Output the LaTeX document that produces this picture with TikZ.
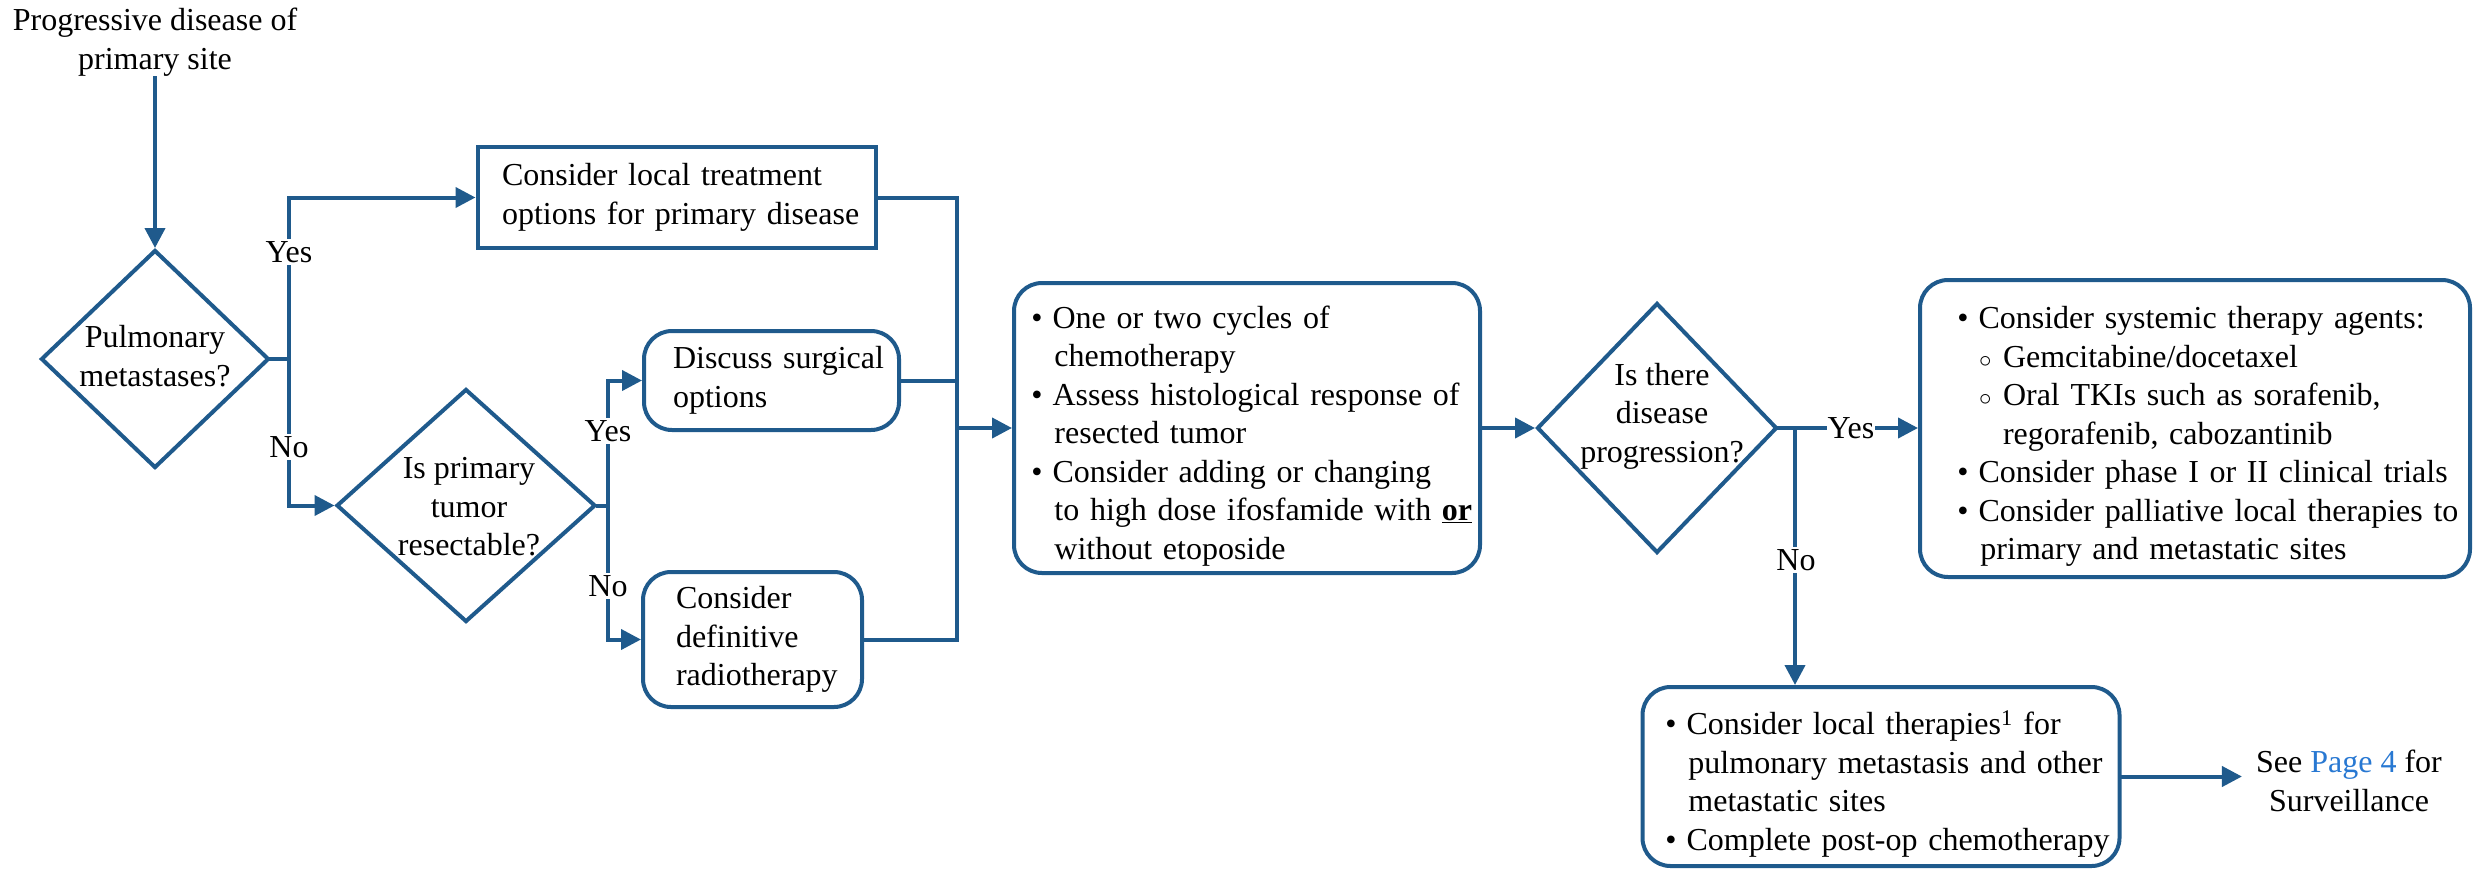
\documentclass[tikz,border=0pt]{standalone}
\usepackage{fontspec}
\setmainfont{Liberation Serif}
\usetikzlibrary{arrows.meta,shapes.geometric}
\definecolor{flowblue}{RGB}{31,90,140}
\definecolor{linkblue}{RGB}{40,120,210}
\newcommand\diagfont{\fontsize{32}{38.5}\selectfont}
% left offset of the bullet column inside a box
\newlength\bind
% bullet item with hanging continuation lines
\newcommand\bitem[1]{\par\leftskip=\dimexpr\bind+0.72em\relax\noindent\hspace*{-0.72em}\makebox[0.66em][l]{\textbullet}#1}
% open-circle sub item
\newcommand\sitem[1]{\par\leftskip=\dimexpr\bind+1.425em\relax\noindent\hspace*{-0.75em}\makebox[0.75em][l]{$\circ$}#1}
\begin{document}
\begin{tikzpicture}[x=1pt,y=-1pt,
  every node/.style={font=\diagfont,text=black},
  box/.style={draw=flowblue,line width=4pt,inner xsep=0pt,inner ysep=0pt,align=left},
  rbox/.style={box,rounded corners=28pt},
  dia/.style={diamond,draw=flowblue,line width=4pt,inner sep=0pt},
  ln/.style={draw=flowblue,line width=4pt,line cap=rect},
  arr/.style={ln,-{Triangle[length=20pt,width=20pt]}},
  lab/.style={fill=white,inner xsep=1pt,inner ysep=2pt}]
\useasboundingbox (0,0) rectangle (2478,868);

% start
\node[align=center,inner sep=2pt] (s) at (155,42) {Progressive disease of\\primary site};

% decisions
\node[dia,minimum width=228pt,minimum height=218pt] (d1) at (155,359) {};
\node[align=center] (d1t) at (155,356) {Pulmonary\\metastases?};
\node[dia,minimum width=259pt,minimum height=233pt] (d2) at (466,505.5) {};
\node[align=center] (d2t) at (469,507) {Is primary\\tumor\\resectable?};
\node[dia,minimum width=240pt,minimum height=250pt] (d3) at (1657,428) {};
\node[align=center] (d3t) at (1662,416) {Is there\\disease\\progression?};

% treatment boxes
\node[box,text width=398pt,minimum height=101pt] (b1) at (676.5,197.5)
  {\leftskip=24.5pt Consider local treatment\\options for primary disease\par};
\node[rbox,text width=255pt,minimum height=99pt] (b2) at (771.5,380.5)
  {\leftskip=29pt Discuss surgical\\options\par};
\node[rbox,text width=219pt,minimum height=135pt] (b3) at (752.5,639.5)
  {\leftskip=33pt Consider\\definitive\\radiotherapy\par};
\node[rbox,text width=466pt,minimum height=290pt] (chemo) at (1247,428)
  {\setlength\bind{17.4pt}%
   \bitem{One or two cycles of\\chemotherapy}%
   \bitem{Assess histological response of\\resected tumor}%
   \bitem{Consider adding or changing\\to high dose ifosfamide with \textbf{\underline{or}}\\without etoposide}\par};
\node[rbox,text width=550pt,minimum height=297pt] (sys) at (2195,428.5)
  {\setlength\bind{37.4pt}%
   \bitem{Consider systemic therapy agents:}%
   \sitem{Gemcitabine/docetaxel}%
   \sitem{Oral TKIs such as sorafenib,\\regorafenib, cabozantinib}%
   \bitem{Consider phase I or II clinical trials}%
   \bitem{Consider palliative local therapies to\\primary and metastatic sites}\par};
\node[rbox,text width=477pt,minimum height=179pt] (local) at (1881,776.5)
  {\setlength\bind{22.9pt}%
   \bitem{Consider local therapies\textsuperscript{1} for\\pulmonary metastasis and other\\metastatic sites}%
   \bitem{Complete post-op chemotherapy}\par};
\node[align=center,inner xsep=14pt,inner ysep=0pt] (see) at (2349,781)
  {See \textcolor{linkblue}{Page 4} for\\Surveillance};

% junction points
\coordinate (j1) at (289,359);
\coordinate (j2) at (608,505.5);
\coordinate (m) at (957,639.5);
\coordinate (j3) at (1795,428);

% connectors
\draw[arr] (s.south -| d1.north) -- (d1.north);
\draw[ln] (d1.east) -- (j1);
\draw[arr] (j1) |- (b1.west);
\draw[arr] (j1) |- (d2.west);
\node[lab] (y1) at (289,252) {Yes};
\node[lab] (n1) at (289,447) {No};

\draw[ln] (d2.east) -- (j2);
\draw[arr] (j2) |- (b2.west);
\draw[arr] (j2) |- (b3.west);
\node[lab] (y2) at (608,431) {Yes};
\node[lab] (n2) at (608,586) {No};

\draw[ln] (b1.east) -| (m);
\draw[ln] (b2.east) -- (b2.east -| m);
\draw[ln] (b3.east) -- (m);
\draw[arr] (m |- chemo.west) -- (chemo.west);

\draw[arr] (chemo.east) -- (d3.west);
\draw[arr] (d3.east) -- (d3.east -| sys.west);
\node[lab] (y3) at (1851,428) {Yes};
\draw[arr] (j3) -- (j3 |- local.north);
\node[lab] (n3) at (1796,560) {No};

\draw[arr] (local.east) -- (local.east -| see.west);
\end{tikzpicture}
\end{document}
